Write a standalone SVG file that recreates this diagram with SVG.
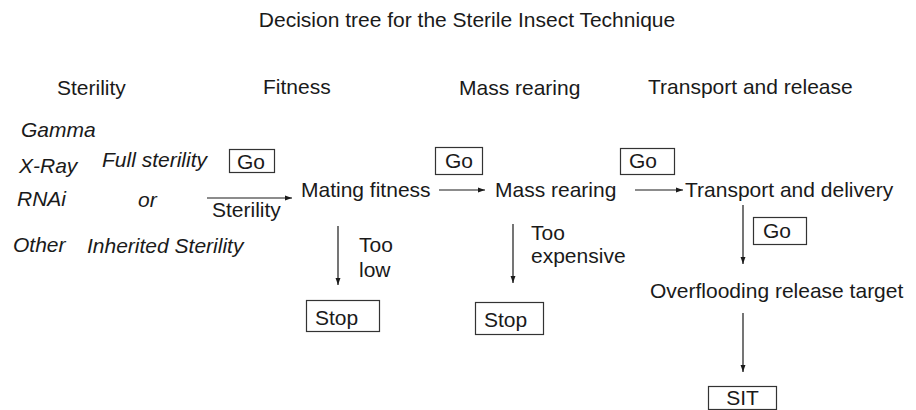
<svg xmlns="http://www.w3.org/2000/svg" width="916" height="410" viewBox="0 0 916 410">
<style>
text{font-family:"Liberation Sans",Arial,sans-serif;font-size:21px;fill:#1a1a1a}
.i{font-style:italic}
.box{fill:#fff;stroke:#333;stroke-width:1.2}
.ln{stroke:#1a1a1a;stroke-width:1.2;fill:none}
</style>
<defs>
<marker id="ah" viewBox="0 0 10 10" refX="10" refY="5" markerWidth="7" markerHeight="7" markerUnits="userSpaceOnUse" orient="auto">
<path d="M0,1.5 L10,5 L0,8.5 z" fill="#1a1a1a"/>
</marker>
</defs>
<rect width="916" height="410" fill="#fff"/>
<text id="title" x="467" y="27" text-anchor="middle">Decision tree for the Sterile Insect Technique</text>
<g id="headers">
<text x="57" y="95">Sterility</text>
<text x="263" y="94">Fitness</text>
<text x="459" y="95">Mass rearing</text>
<text x="648" y="94">Transport and release</text>
</g>
<g id="methods">
<text class="i" x="21" y="137">Gamma</text>
<text class="i" x="19" y="173">X-Ray</text>
<text class="i" x="17" y="206">RNAi</text>
<text class="i" x="13" y="252">Other</text>
<text class="i" x="102" y="167">Full sterility</text>
<text class="i" x="138" y="207">or</text>
<text class="i" x="87" y="253">Inherited Sterility</text>
</g>
<g id="connectors">
<line class="ln" x1="207" y1="198" x2="292" y2="198" marker-end="url(#ah)"/>
<line class="ln" x1="439" y1="190" x2="485" y2="190" marker-end="url(#ah)"/>
<line class="ln" x1="635" y1="190" x2="683" y2="190" marker-end="url(#ah)"/>
<line class="ln" x1="338" y1="226" x2="338" y2="285" marker-end="url(#ah)"/>
<line class="ln" x1="513" y1="224" x2="513" y2="283" marker-end="url(#ah)"/>
<line class="ln" x1="743" y1="205" x2="743" y2="264" marker-end="url(#ah)"/>
<line class="ln" x1="743" y1="313" x2="743" y2="372" marker-end="url(#ah)"/>
</g>
<g id="go1"><rect class="box" x="229.5" y="149.5" width="45" height="23"/><text x="237" y="169">Go</text></g>
<text id="lbl-sterility" x="212" y="217">Sterility</text>
<g id="mating"><text x="301" y="197">Mating fitness</text></g>
<g id="go2"><rect class="box" x="435.5" y="147.5" width="47" height="27"/><text x="445" y="168">Go</text></g>
<g id="massrearing"><text x="495" y="197">Mass rearing</text></g>
<g id="go3"><rect class="box" x="620.5" y="148.5" width="54" height="26"/><text x="629" y="168">Go</text></g>
<g id="transport"><text x="685" y="197">Transport and delivery</text></g>
<g id="go4"><rect class="box" x="753.5" y="217.5" width="53" height="27"/><text x="763" y="238">Go</text></g>
<g id="overflooding"><text x="650" y="298">Overflooding release target</text></g>
<g id="toolow"><text x="359" y="252">Too</text><text x="359" y="277">low</text></g>
<g id="tooexp"><text x="531" y="240">Too</text><text x="531" y="263">expensive</text></g>
<g id="stop1"><rect class="box" x="306.5" y="300.5" width="73" height="31"/><text x="315" y="325">Stop</text></g>
<g id="stop2"><rect class="box" x="475.5" y="302.5" width="68" height="32"/><text x="484" y="327">Stop</text></g>
<g id="sit"><rect class="box" x="708.5" y="386.5" width="68" height="23"/><text x="742.5" y="405" text-anchor="middle">SIT</text></g>
</svg>
